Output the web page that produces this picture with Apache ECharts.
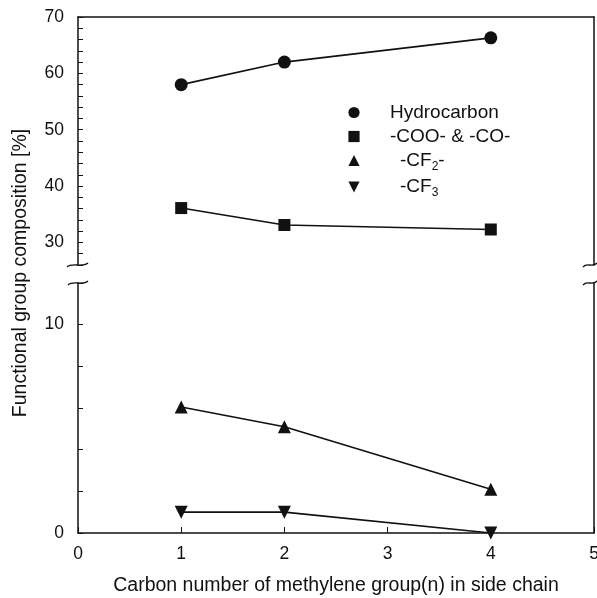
<!DOCTYPE html>
<html>
<head>
<meta charset="utf-8">
<script src="https://cdn.jsdelivr.net/npm/echarts@6/dist/echarts.min.js"></script>
<style>
  html, body { margin: 0; padding: 0; background: #fff; }
  #chartmain { width: 597px; height: 598px; }
</style>
</head>
<body>
<div id="chartmain"></div>
<script>
// carbon number n
var carbonN = [1, 2, 4];
// upper panel (broken axis, 26-70)
var hydrocarbon = [58, 62, 66.3];
var cooCo = [36.1, 33.1, 32.3];
// lower panel (0-12)
var cf2 = [6.05, 5.1, 2.1];
var cf3 = [1.0, 1.0, 0];

var seriesNames = ['Hydrocarbon', '-COO- & -CO-', '-CF2-', '-CF3'];

function pairs(ys) {
  return carbonN.map(function (x, i) { return [x, ys[i]]; });
}

var fontFam = '"Liberation Sans", Arial, sans-serif';
var ink = '#111';

var myChart = echarts.init(document.getElementById('chartmain'));

// 上下两个 grid 做断轴
var xCommon = {
  type: 'value', min: 0, max: 5, interval: 1,
  axisLine: { lineStyle: { color: ink, width: 1.5 } },
  splitLine: { show: false }
};

var yLabelOnly10 = function (v) { return v % 10 === 0 ? String(v) : ''; };

myChart.setOption({
  animation: false,
  backgroundColor: '#fff',
  grid: [
    { left: 78, right: 3, top: 17, height: 248, outerBoundsMode: 'none' },
    { left: 78, right: 3, top: 283, height: 250, outerBoundsMode: 'none' }
  ],
  xAxis: [
    Object.assign({}, xCommon, {
      gridIndex: 0, position: 'top',
      axisTick: { show: false }, axisLabel: { show: false }
    }),
    Object.assign({}, xCommon, {
      gridIndex: 1, position: 'bottom',
      name: 'Carbon number of methylene group(n) in side chain',
      nameLocation: 'middle', nameGap: 43,
      nameTextStyle: { fontFamily: fontFam, fontSize: 19.5, color: ink },
      axisTick: { inside: true, length: 6, lineStyle: { color: ink } },
      axisLabel: { fontFamily: fontFam, fontSize: 17.5, color: ink, margin: 12 }
    })
  ],
  yAxis: [
    {
      type: 'value', gridIndex: 0, min: 26, max: 70, interval: 2,
      axisLine: { lineStyle: { color: ink, width: 1.5 } },
      axisTick: { inside: true, length: 5, lineStyle: { color: ink } },
      axisLabel: { fontFamily: fontFam, fontSize: 17.5, color: ink, margin: 14, formatter: yLabelOnly10 },
      splitLine: { show: false }
    },
    {
      type: 'value', gridIndex: 1, min: 0, max: 12, interval: 2,
      axisLine: { lineStyle: { color: ink, width: 1.5 } },
      axisTick: { inside: true, length: 5, lineStyle: { color: ink } },
      axisLabel: { fontFamily: fontFam, fontSize: 17.5, color: ink, margin: 14, formatter: yLabelOnly10 },
      splitLine: { show: false }
    },
    {
      type: 'value', gridIndex: 0, position: 'right', min: 26, max: 70,
      axisLine: { lineStyle: { color: ink, width: 1.5 } },
      axisTick: { show: false }, axisLabel: { show: false }, splitLine: { show: false }
    },
    {
      type: 'value', gridIndex: 1, position: 'right', min: 0, max: 12,
      axisLine: { lineStyle: { color: ink, width: 1.5 } },
      axisTick: { show: false }, axisLabel: { show: false }, splitLine: { show: false }
    }
  ],
  legend: {
    orient: 'vertical',
    left: 342, top: 98,
    itemWidth: 14, itemHeight: 14, itemGap: 5,
    data: seriesNames,
    lineStyle: { width: 0 },
    textStyle: {
      fontFamily: fontFam, fontSize: 19, color: ink, padding: [0, 0, 0, 24],
      rich: {
        ind: { fontFamily: fontFam, fontSize: 19, color: ink, padding: [0, 0, 0, 10] },
        sub: { fontFamily: fontFam, fontSize: 12, color: ink, padding: [12, 0, 0, 0] }
      }
    },
    formatter: function (name) {
      if (name === '-CF2-') return '{ind|-CF}{sub|2}-';
      if (name === '-CF3') return '{ind|-CF}{sub|3}';
      return name;
    }
  },
  graphic: [
    {
      type: 'text', x: 21, y: 273, rotation: Math.PI / 2,
      style: {
        text: 'Functional group composition [%]',
        font: '19.5px ' + fontFam, fill: ink,
        align: 'center', verticalAlign: 'middle'
      }
    },
    // break marks
    { type: 'bezierCurve', shape: { x1: 67, y1: 267, cpx1: 72, cpy1: 262, cpx2: 82, cpy2: 268, x2: 88, y2: 263 }, style: { stroke: ink, lineWidth: 1.3, fill: null } },
    { type: 'bezierCurve', shape: { x1: 68, y1: 285, cpx1: 73, cpy1: 280, cpx2: 83, cpy2: 286, x2: 88, y2: 281 }, style: { stroke: ink, lineWidth: 1.3, fill: null } },
    { type: 'bezierCurve', shape: { x1: 583, y1: 267, cpx1: 587, cpy1: 262, cpx2: 592, cpy2: 268, x2: 597, y2: 263 }, style: { stroke: ink, lineWidth: 1.3, fill: null } },
    { type: 'bezierCurve', shape: { x1: 583, y1: 285, cpx1: 587, cpy1: 280, cpx2: 592, cpy2: 286, x2: 597, y2: 281 }, style: { stroke: ink, lineWidth: 1.3, fill: null } }
  ],
  series: [
    {
      name: seriesNames[0], type: 'line', xAxisIndex: 0, yAxisIndex: 0,
      data: pairs(hydrocarbon), symbol: 'circle', symbolSize: 13,
      lineStyle: { color: ink, width: 1.6 }, itemStyle: { color: ink }
    },
    {
      name: seriesNames[1], type: 'line', xAxisIndex: 0, yAxisIndex: 0,
      data: pairs(cooCo), symbol: 'rect', symbolSize: 12,
      lineStyle: { color: ink, width: 1.6 }, itemStyle: { color: ink }
    },
    {
      name: seriesNames[2], type: 'line', xAxisIndex: 1, yAxisIndex: 1,
      data: pairs(cf2), symbol: 'triangle', symbolSize: 13,
      lineStyle: { color: ink, width: 1.6 }, itemStyle: { color: ink }
    },
    {
      name: seriesNames[3], type: 'line', xAxisIndex: 1, yAxisIndex: 1,
      data: pairs(cf3), symbol: 'triangle', symbolRotate: 180, symbolSize: 13,
      lineStyle: { color: ink, width: 1.6 }, itemStyle: { color: ink }
    }
  ]
});
</script>
</body>
</html>
